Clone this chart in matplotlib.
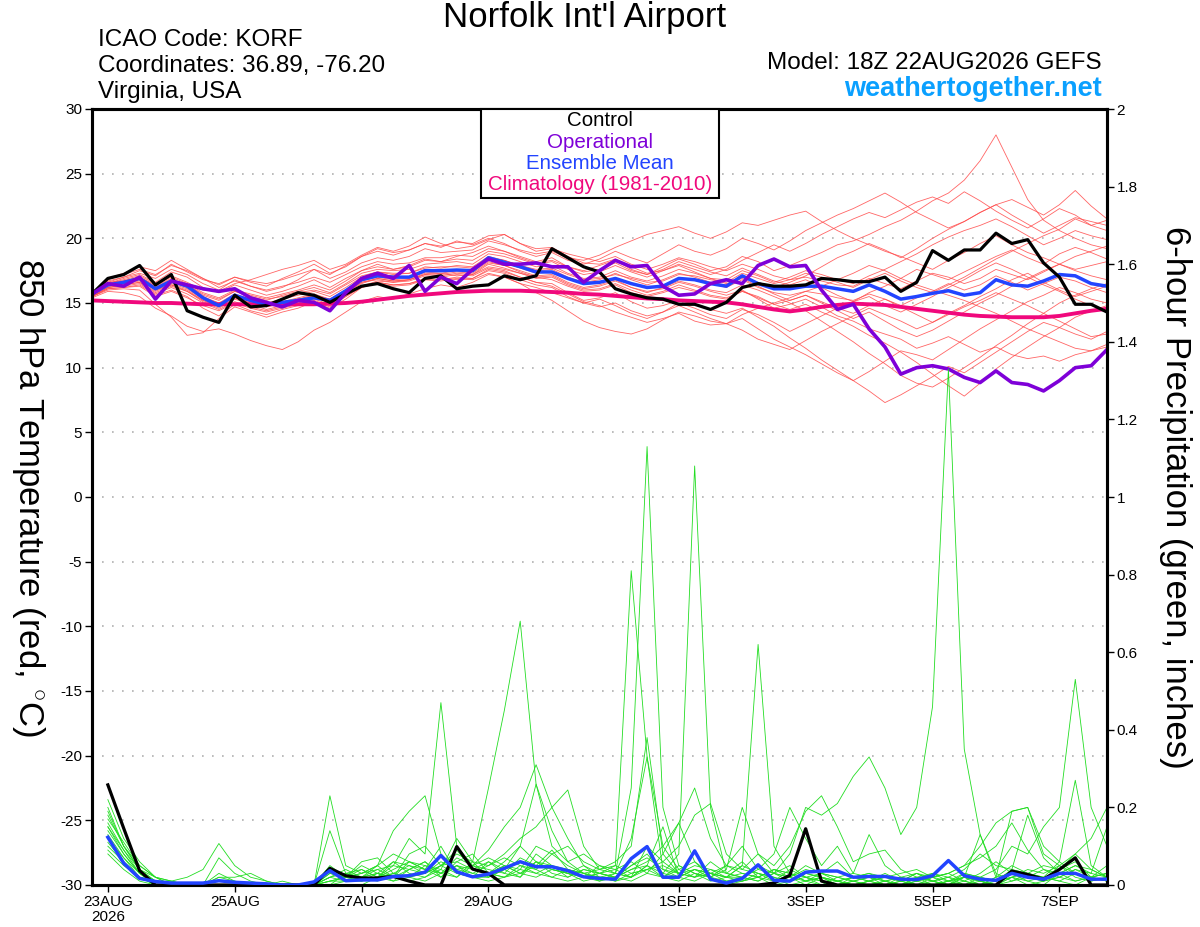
import numpy as np
import matplotlib
matplotlib.use('Agg')
import matplotlib.pyplot as plt

plt.rcParams['font.family'] = ['Liberation Sans', 'DejaVu Sans']
plt.rcParams['axes.unicode_minus'] = False
plt.rcParams['mathtext.fontset'] = 'custom'
plt.rcParams['mathtext.rm'] = 'Liberation Sans'

# ---------------------------------------------------------------- data
# temperature: every 6 h from 22AUG 18Z (hours relative to 23AUG 00Z)
t_hours = list(range(-6, 384, 6))
# precipitation: every 6 h from 23AUG 00Z
p_hours = list(range(0, 384, 6))

tick_days = [0, 2, 4, 6, 9, 11, 13, 15]
tick_labels = ['23AUG\n2026', '25AUG', '27AUG', '29AUG', '1SEP', '3SEP', '5SEP', '7SEP']

control_t = [15.7, 16.9, 17.2, 17.9, 16.4, 17.2, 14.4, 13.9,
             13.5, 15.6, 14.7, 14.8, 15.3, 15.8, 15.6, 15.05,
             15.7, 16.3, 16.5, 16.1, 15.8, 16.9, 17.1, 16.1,
             16.3, 16.4, 17.1, 16.8, 17.1, 19.2, 18.5, 17.8,
             17.4, 16.1, 15.7, 15.4, 15.3, 14.9, 14.9, 14.5,
             15.05, 16.2, 16.5, 16.3, 16.3, 16.4, 16.9, 16.8,
             16.65, 16.65, 17.0, 15.9, 16.6, 19.05, 18.3, 19.1,
             19.1, 20.4, 19.6, 19.9, 18.1, 17.0, 14.9, 14.9, 14.3]

oper_t = [15.7, 16.5, 16.3, 17.0, 15.3, 16.7, 16.4, 16.1,
          15.9, 16.1, 15.4, 15.05, 14.7, 15.2, 15.05, 14.4,
          15.8, 16.9, 17.3, 16.9, 17.9, 15.9, 17.0, 16.5,
          17.6, 18.4, 18.0, 18.0, 18.1, 17.8, 17.8, 16.6,
          17.5, 18.3, 17.8, 17.9, 16.3, 15.6, 15.7, 16.5,
          16.8, 16.5, 17.9, 18.4, 17.8, 17.9, 16.0, 14.5,
          14.9, 13.0, 11.6, 9.5, 10.0, 10.15, 9.9, 9.25,
          8.85, 9.75, 8.85, 8.7, 8.2, 9.0, 10.0, 10.15, 11.4]

mean_t = [15.7, 16.4, 16.6, 16.9, 16.1, 16.7, 16.3, 15.4,
          14.8, 15.6, 15.2, 14.9, 15.05, 15.2, 15.4, 15.2,
          15.95, 16.8, 17.1, 17.0, 17.0, 17.5, 17.5, 17.55,
          17.5, 18.5, 18.15, 17.8, 17.4, 17.4, 16.9, 16.5,
          16.6, 16.9, 16.5, 16.2, 16.3, 16.9, 16.8, 16.5,
          16.3, 17.1, 16.5, 16.1, 16.1, 16.3, 16.3, 16.1,
          15.9, 16.4, 15.9, 15.3, 15.5, 15.75, 15.95, 15.6,
          15.8, 16.8, 16.4, 16.3, 16.7, 17.2, 17.1, 16.5, 16.3]

clim_t = [15.2, 15.15, 15.1, 15.05, 15.0, 15.0, 14.95, 14.9,
          14.9, 14.9, 14.9, 14.9, 14.9, 14.9, 14.9, 14.95,
          15.0, 15.1, 15.25, 15.4, 15.55, 15.65, 15.75, 15.85,
          15.9, 15.95, 15.95, 15.95, 15.9, 15.85, 15.8, 15.7,
          15.65, 15.55, 15.45, 15.35, 15.3, 15.2, 15.15, 15.1,
          15.05, 14.9, 14.7, 14.5, 14.35, 14.5, 14.7, 14.85,
          14.95, 14.9, 14.85, 14.7, 14.55, 14.4, 14.25, 14.1,
          14.0, 13.95, 13.9, 13.9, 13.9, 14.0, 14.2, 14.4, 14.55]

members_t = [
    [15.6, 16.5, 16.9, 17.2, 16.6, 17.4, 17.0, 16.2, 15.8, 16.4, 16.0, 15.6, 15.9, 16.3, 16.8, 16.2,
     16.9, 17.5, 18.0, 17.6, 17.9, 18.4, 18.2, 18.6, 18.9, 19.4, 19.0, 18.6, 18.2, 18.5, 17.8, 17.5,
     17.9, 18.3, 17.6, 17.2, 17.8, 18.4, 18.0, 17.5, 17.8, 18.6, 18.2, 17.5, 17.9, 18.4, 18.9, 19.5,
     19.8, 20.3, 20.9, 21.4, 22.1, 22.9, 23.5, 24.5, 26.0, 28.0, 25.5, 23.0, 21.4, 20.6, 20.0, 19.5, 19.2],
    [15.5, 16.1, 16.2, 16.4, 15.6, 16.0, 15.5, 14.6, 14.0, 14.9, 14.4, 14.1, 14.5, 14.8, 15.0, 14.6,
     15.3, 16.2, 16.6, 16.4, 16.5, 16.9, 17.0, 16.8, 16.9, 17.6, 17.4, 17.0, 16.6, 16.5, 15.8, 15.2,
     15.4, 15.8, 15.1, 14.6, 14.8, 15.2, 14.9, 14.5, 14.2, 14.6, 13.9, 13.2, 12.3, 11.5, 10.6, 9.8,
     9.0, 8.2, 7.3, 7.9, 8.6, 9.3, 10.1, 9.6, 10.4, 11.2, 12.0, 12.8, 13.5, 13.1, 13.9, 14.4, 14.8],
    [15.7, 16.6, 17.0, 17.5, 17.1, 18.0, 17.4, 16.8, 16.5, 17.0, 16.6, 16.3, 16.9, 17.4, 18.0, 17.3,
     17.8, 18.6, 19.2, 18.9, 19.1, 19.6, 19.3, 19.8, 19.5, 20.0, 19.6, 19.0, 18.6, 18.9, 18.3, 18.0,
     18.4, 19.0, 18.5, 18.1, 18.8, 19.5, 19.0, 18.7, 19.2, 20.0, 19.6, 19.1, 19.8, 20.6, 21.2, 21.8,
     22.3, 22.9, 23.5, 22.8, 22.0, 21.4, 20.8, 21.3, 22.0, 22.6, 21.8, 21.1, 20.4, 21.0, 21.6, 21.3, 21.0],
    [15.4, 15.9, 15.8, 15.5, 14.6, 14.0, 13.2, 12.8, 13.0, 12.6, 12.1, 11.7, 11.4, 12.0, 12.9, 13.5,
     14.3, 15.1, 15.5, 15.3, 15.7, 16.1, 16.4, 16.2, 16.6, 17.2, 17.0, 16.5, 16.2, 15.8, 15.4, 15.0,
     15.3, 14.8, 14.2, 13.8, 14.3, 15.0, 14.6, 14.1, 13.8, 14.5, 14.1, 13.5, 12.8, 13.4, 14.0, 14.6,
     15.1, 15.8, 16.3, 16.9, 17.6, 17.2, 16.8, 17.4, 18.0, 18.6, 19.1, 18.5, 18.0, 18.8, 19.3, 18.9, 18.4],
    [15.6, 16.3, 16.5, 16.8, 16.0, 16.4, 15.9, 15.1, 14.6, 15.3, 14.9, 14.5, 14.8, 15.1, 15.5, 15.0,
     15.8, 16.5, 16.9, 16.7, 16.8, 17.3, 17.2, 17.4, 17.3, 18.1, 17.9, 17.5, 17.1, 17.2, 16.6, 16.2,
     16.4, 16.8, 16.2, 15.9, 16.1, 16.6, 16.3, 15.9, 15.6, 16.0, 15.3, 14.6, 14.9, 15.3, 14.7, 14.0,
     13.6, 13.0, 12.6, 12.2, 11.5, 11.9, 12.4, 11.8, 11.2, 11.6, 11.0, 10.7, 10.9, 10.5, 11.0, 11.3, 11.8],
    [15.8, 16.7, 17.0, 17.3, 16.9, 17.6, 17.2, 16.5, 16.0, 16.8, 16.3, 15.9, 16.2, 16.8, 17.6, 16.9,
     17.4, 18.1, 18.5, 18.3, 18.6, 19.2, 18.9, 19.0, 19.1, 19.8, 19.5, 19.1, 18.8, 19.0, 18.5, 18.3,
     18.7, 19.3, 19.8, 20.3, 20.6, 20.9, 20.4, 20.0, 20.5, 21.2, 21.0, 21.4, 21.8, 22.1, 21.3, 20.6,
     20.0, 19.5, 19.0, 18.6, 18.1, 17.6, 18.3, 18.9, 19.6, 20.2, 19.5, 18.9, 18.5, 18.0, 17.6, 17.9, 18.2],
    [15.5, 16.0, 16.1, 16.0, 14.9, 13.9, 12.5, 12.7, 13.8, 14.7, 14.3, 13.9, 14.3, 14.6, 15.1, 14.7,
     15.5, 16.3, 16.7, 16.6, 16.8, 17.2, 17.3, 17.1, 17.2, 17.8, 17.6, 17.3, 17.0, 16.8, 16.3, 15.9,
     16.0, 16.4, 15.8, 15.5, 15.8, 16.2, 15.9, 15.5, 15.3, 15.9, 15.5, 14.9, 15.2, 15.6, 15.1, 14.6,
     14.2, 14.8, 15.3, 14.7, 14.1, 13.5, 14.2, 14.8, 15.5, 16.1, 16.8, 17.3, 16.6, 16.0, 15.5, 15.9, 16.3],
    [15.7, 16.5, 16.8, 17.1, 16.5, 17.1, 16.6, 16.0, 15.9, 16.5, 16.8, 17.2, 17.6, 17.9, 18.3, 17.6,
     18.0, 18.7, 19.3, 19.0, 19.4, 20.1, 19.6, 19.2, 19.4, 19.9, 20.3, 19.6, 19.0, 19.2, 18.8, 18.5,
     18.2, 18.6, 18.0, 17.6, 18.0, 18.5, 18.2, 17.8, 17.5, 18.0, 17.6, 17.1, 16.8, 17.3, 17.0, 16.6,
     16.2, 16.8, 17.3, 16.7, 16.2, 15.8, 16.4, 17.0, 17.7, 18.4, 19.0, 19.6, 20.2, 20.7, 21.5, 21.0, 21.4],
    [15.6, 16.2, 16.4, 16.6, 15.8, 16.3, 15.9, 15.2, 14.9, 15.4, 15.0, 14.7, 15.0, 15.3, 15.6, 15.2,
     15.9, 16.6, 16.8, 16.6, 16.7, 17.1, 17.0, 17.2, 17.1, 17.7, 17.5, 17.0, 16.6, 16.3, 15.7, 15.1,
     14.8, 14.3, 13.9, 13.5, 13.8, 14.2, 13.6, 13.3, 13.4, 12.9, 12.2, 11.8, 11.4, 12.1, 12.8, 13.4,
     14.0, 14.6, 14.1, 13.6, 13.0, 13.5, 14.1, 14.7, 15.2, 15.8, 15.3, 14.8, 14.2, 13.6, 13.0, 12.4, 12.6],
    [15.7, 16.6, 16.7, 17.0, 16.3, 16.9, 16.4, 15.6, 15.2, 15.9, 15.5, 15.2, 15.6, 15.9, 16.2, 15.8,
     16.5, 17.3, 17.6, 17.5, 17.6, 18.0, 18.1, 18.2, 18.0, 18.8, 18.6, 18.2, 17.8, 17.9, 17.3, 16.9,
     17.0, 17.5, 17.0, 16.7, 17.1, 17.6, 17.3, 16.9, 16.8, 17.5, 17.1, 16.6, 17.0, 17.5, 17.2, 16.8,
     16.5, 17.1, 17.6, 18.2, 18.8, 19.5, 20.1, 20.6, 21.0, 21.5, 20.9, 20.2, 19.5, 20.0, 20.6, 20.2, 19.9],
    [15.5, 16.2, 16.3, 16.5, 15.7, 16.2, 15.7, 15.0, 14.5, 15.1, 14.7, 14.4, 14.7, 15.0, 15.3, 14.9,
     15.6, 16.3, 16.6, 16.4, 16.5, 16.8, 16.7, 16.9, 16.8, 17.3, 17.0, 16.5, 15.8, 15.2, 14.4, 13.6,
     13.1, 12.8, 12.6, 13.0, 13.7, 14.3, 14.0, 13.6, 13.4, 14.1, 14.6, 15.0, 15.4, 15.9, 16.3, 16.8,
     17.3, 17.9, 17.5, 16.9, 16.4, 16.0, 15.6, 15.2, 14.7, 14.2, 13.6, 13.0, 12.5, 12.0, 11.5, 11.3, 11.6],
    [15.6, 16.4, 16.6, 16.9, 16.2, 16.8, 16.3, 15.5, 15.0, 15.7, 15.3, 15.0, 15.3, 15.6, 15.9, 15.5,
     16.2, 17.0, 17.4, 17.2, 17.3, 17.8, 17.7, 17.9, 17.8, 18.6, 18.3, 17.9, 17.5, 17.6, 17.0, 16.6,
     16.8, 17.3, 16.8, 16.4, 16.8, 17.3, 17.0, 16.6, 16.4, 17.0, 16.6, 16.2, 16.6, 17.1, 17.8, 18.5,
     19.0, 19.6, 19.1, 18.5, 19.2, 20.0, 20.7, 21.3, 22.0, 22.6, 23.0, 22.4, 21.8, 22.6, 23.7, 22.5, 21.5],
    [15.6, 16.3, 16.5, 16.7, 16.0, 16.5, 16.1, 15.3, 14.8, 15.5, 15.1, 14.8, 15.1, 15.4, 15.7, 15.3,
     16.0, 16.7, 17.0, 16.8, 16.9, 17.4, 17.3, 17.5, 17.4, 18.2, 17.9, 17.4, 17.0, 17.1, 16.5, 16.1,
     16.3, 16.7, 16.2, 15.8, 16.2, 16.7, 16.4, 16.0, 15.8, 16.4, 16.0, 15.5, 15.0, 14.4, 13.6, 12.8,
     12.0, 11.1, 10.3, 9.4, 8.8, 8.5, 9.2, 10.0, 10.8, 11.7, 12.5, 13.4, 14.2, 15.0, 15.6, 16.1, 16.5],
    [15.7, 16.5, 16.6, 16.8, 16.1, 16.6, 16.2, 15.4, 15.0, 15.5, 15.1, 14.9, 15.1, 15.3, 15.6, 15.3,
     16.0, 16.9, 17.2, 17.1, 17.0, 17.6, 17.6, 17.6, 17.6, 18.4, 18.1, 17.7, 17.3, 17.4, 16.9, 16.5,
     16.6, 16.9, 16.5, 16.2, 16.3, 16.9, 16.8, 16.5, 16.2, 16.8, 16.2, 15.8, 15.6, 15.9, 15.7, 15.4,
     15.2, 15.7, 15.3, 14.8, 15.4, 15.9, 16.5, 16.0, 16.4, 17.1, 16.6, 16.0, 16.5, 17.0, 16.7, 16.2, 15.8],
    [15.8, 16.8, 17.2, 17.6, 17.2, 17.9, 17.5, 16.9, 16.4, 17.0, 16.7, 16.5, 16.8, 17.2, 17.6, 17.2,
     17.9, 18.6, 19.0, 18.7, 19.1, 19.6, 19.4, 19.7, 19.6, 20.2, 20.3, 19.6, 19.2, 19.3, 18.6, 18.1,
     18.0, 18.4, 17.8, 17.3, 17.5, 17.9, 17.4, 16.9, 16.5, 16.9, 16.3, 15.7, 15.2, 15.6, 15.0, 14.4,
     13.8, 14.3, 13.6, 12.9, 12.4, 12.9, 13.6, 14.3, 15.0, 15.6, 16.3, 16.9, 17.5, 18.0, 18.6, 19.0, 19.4],
    [15.5, 16.2, 16.4, 16.6, 15.9, 16.4, 16.0, 15.2, 14.7, 15.4, 15.0, 14.7, 15.0, 15.2, 15.5, 15.1,
     15.8, 16.6, 16.9, 16.7, 16.8, 17.2, 17.1, 17.3, 17.2, 18.0, 17.7, 17.3, 16.9, 17.0, 16.4, 16.0,
     16.1, 16.5, 16.0, 15.6, 15.9, 16.4, 16.0, 15.6, 15.4, 15.9, 15.4, 14.9, 14.5, 14.9, 14.3, 13.8,
     13.2, 12.5, 11.9, 11.2, 10.4, 9.5, 8.6, 7.8, 8.8, 9.9, 10.8, 11.6, 12.4, 13.1, 12.6, 12.2, 12.8],
    [15.6, 16.4, 16.7, 17.0, 16.4, 17.0, 16.5, 15.8, 15.4, 16.0, 15.7, 15.4, 15.7, 16.0, 16.4, 16.0,
     16.7, 17.5, 17.8, 17.6, 17.8, 18.3, 18.2, 18.4, 18.3, 19.0, 18.8, 18.4, 18.0, 18.2, 17.6, 17.2,
     17.4, 17.9, 17.4, 17.0, 17.5, 18.0, 17.6, 17.2, 17.6, 18.3, 18.9, 19.5, 19.0, 19.6, 20.3, 20.9,
     21.5, 22.0, 21.6, 22.2, 22.8, 23.2, 22.7, 23.6, 22.9, 22.1, 21.4, 20.8, 21.5, 22.3, 21.8, 21.0, 20.6],
    [15.5, 16.1, 16.2, 16.3, 15.5, 15.9, 15.4, 14.8, 14.4, 15.0, 14.6, 14.3, 14.6, 14.9, 15.2, 14.8,
     15.5, 16.2, 16.5, 16.3, 16.4, 16.8, 16.8, 17.0, 16.9, 17.5, 17.3, 16.8, 16.4, 16.2, 15.5, 15.0,
     14.7, 15.0, 14.4, 14.0, 14.3, 14.8, 14.3, 13.8, 13.4, 13.8, 13.0, 12.2, 11.6, 11.0, 10.3, 9.6,
     9.0, 9.7, 10.5, 11.3, 11.0, 10.6, 11.4, 12.2, 13.0, 13.7, 14.4, 15.1, 15.6, 16.2, 15.8, 15.3, 15.0],
    [15.7, 16.4, 16.7, 17.0, 16.2, 16.8, 16.4, 15.7, 15.3, 15.9, 15.6, 15.3, 15.5, 15.8, 16.0, 15.7,
     16.4, 17.1, 17.4, 17.3, 17.3, 17.7, 17.8, 17.8, 17.7, 18.5, 18.3, 17.9, 17.6, 17.7, 17.2, 16.8,
     16.9, 17.2, 16.9, 16.6, 16.7, 17.2, 17.1, 16.8, 16.6, 17.3, 16.9, 16.5, 16.8, 17.0, 16.7, 16.4,
     16.3, 16.9, 16.5, 16.1, 16.7, 17.3, 17.0, 16.5, 16.9, 17.6, 17.2, 16.8, 17.4, 18.0, 17.5, 17.1, 16.8],
    [15.8, 16.9, 17.3, 17.8, 17.5, 18.3, 17.6, 16.9, 16.2, 16.7, 16.3, 16.0, 16.3, 16.6, 17.0, 16.6,
     17.2, 17.8, 18.2, 18.0, 18.1, 18.5, 18.5, 18.7, 18.6, 19.2, 19.0, 18.5, 18.1, 18.3, 17.8, 17.4,
     17.6, 18.1, 17.5, 17.2, 17.6, 18.2, 17.8, 17.4, 17.1, 17.7, 17.2, 16.7, 16.4, 16.8, 16.2, 15.6,
     15.1, 15.5, 14.8, 14.3, 14.9, 15.5, 16.2, 16.8, 17.5, 18.1, 17.6, 17.0, 16.4, 15.9, 15.3, 14.8, 14.5],
]

control_p = [0.258, 0.146, 0.037, 0.0, 0.0, 0.0, 0.0, 0.0,
             0.0, 0.0, 0.0, 0.0, 0.0, 0.0, 0.043, 0.024,
             0.018, 0.018, 0.022, 0.01, 0.0, 0.0, 0.099, 0.041,
             0.03, 0.0, 0.0, 0.0, 0.0, 0.0, 0.0, 0.0,
             0.0, 0.0, 0.0, 0.0, 0.0, 0.0, 0.0, 0.0,
             0.0, 0.0, 0.005, 0.025, 0.145, 0.01, 0.0, 0.0,
             0.0, 0.0, 0.0, 0.0, 0.0, 0.0, 0.0, 0.0,
             0.0, 0.036, 0.027, 0.015, 0.04, 0.07, 0.0, 0.0]

mean_p = [0.123, 0.056, 0.017, 0.009, 0.005, 0.005, 0.005, 0.011,
          0.007, 0.005, 0.003, 0.0, 0.0, 0.008, 0.037, 0.011,
          0.013, 0.013, 0.022, 0.024, 0.033, 0.076, 0.034, 0.021,
          0.028, 0.043, 0.06, 0.047, 0.047, 0.037, 0.021, 0.017,
          0.015, 0.068, 0.099, 0.02, 0.02, 0.088, 0.015, 0.005,
          0.017, 0.052, 0.012, 0.01, 0.033, 0.036, 0.036, 0.02,
          0.022, 0.022, 0.015, 0.014, 0.024, 0.063, 0.024, 0.015,
          0.012, 0.03, 0.02, 0.015, 0.03, 0.03, 0.015, 0.015]

members_p = [
    [0.15, 0.08, 0.03, 0, 0, 0, 0, 0, 0, 0, 0, 0, 0, 0, 0.05, 0.02,
     0.03, 0.05, 0.02, 0.04, 0.06, 0.02, 0.05, 0.03, 0.02, 0.04, 0.1, 0.06, 0.03, 0.02, 0.04, 0.03,
     0.02, 0.05, 0.08, 0.03, 0.02, 0.04, 0.03, 0.01, 0.02, 0.05, 0.03, 0.08, 0.2, 0.18, 0.21, 0.28,
     0.33, 0.25, 0.13, 0.2, 0.46, 1.33, 0.35, 0.13, 0.02, 0.05, 0.03, 0.01, 0.02, 0.04, 0.02, 0.03],
    [0.18, 0.1, 0.04, 0.01, 0, 0, 0, 0, 0, 0, 0, 0, 0, 0, 0.02, 0.01,
     0.02, 0.01, 0.03, 0.05, 0.04, 0.1, 0.03, 0.02, 0.06, 0.04, 0.02, 0.08, 0.05, 0.03, 0.02, 0.01,
     0.03, 0.25, 1.13, 0.2, 0.05, 0.03, 0.02, 0.01, 0.01, 0.02, 0.0, 0.01, 0.03, 0.02, 0.01, 0,
     0, 0, 0.01, 0.02, 0, 0.01, 0.02, 0.01, 0, 0.03, 0.02, 0.01, 0.05, 0.02, 0.01, 0.02],
    [0.12, 0.07, 0.02, 0, 0, 0, 0, 0, 0, 0, 0, 0, 0, 0, 0.03, 0.02,
     0.04, 0.02, 0.01, 0.02, 0.03, 0.05, 0.09, 0.04, 0.03, 0.02, 0.05, 0.04, 0.02, 0.01, 0.02, 0.03,
     0.05, 0.81, 0.33, 0.04, 0.02, 0.01, 0.03, 0.02, 0.05, 0.03, 0.01, 0.02, 0.0, 0.02, 0.01, 0.0,
     0.01, 0.03, 0.01, 0, 0, 0.01, 0, 0.02, 0.01, 0.04, 0.03, 0.02, 0.06, 0.27, 0.05, 0.02],
    [0.2, 0.1, 0.05, 0.02, 0, 0, 0, 0, 0, 0, 0, 0, 0, 0, 0.01, 0.01,
     0.02, 0.03, 0.06, 0.03, 0.02, 0.04, 0.12, 0.06, 0.02, 0.05, 0.03, 0.02, 0.04, 0.03, 0.01, 0.02,
     0.01, 0.02, 0.05, 0.03, 0.08, 1.08, 0.2, 0.03, 0.02, 0.01, 0.03, 0.05, 0.02, 0.01, 0.0, 0.01,
     0.02, 0.0, 0.01, 0.03, 0.01, 0.0, 0.02, 0.01, 0.0, 0.02, 0.01, 0.0, 0.03, 0.01, 0.02, 0.01],
    [0.1, 0.06, 0.02, 0.01, 0.01, 0, 0, 0.02, 0.01, 0, 0, 0, 0, 0, 0.04, 0.02,
     0.01, 0.02, 0.04, 0.06, 0.05, 0.03, 0.02, 0.05, 0.04, 0.03, 0.02, 0.06, 0.05, 0.04, 0.03, 0.02,
     0.02, 0.04, 0.05, 0.15, 0.02, 0.04, 0.03, 0.02, 0.05, 0.62, 0.1, 0.03, 0.02, 0.01, 0.0, 0.02,
     0.03, 0.01, 0.0, 0.01, 0.02, 0.03, 0.01, 0.0, 0.02, 0.03, 0.01, 0.02, 0.01, 0.03, 0.02, 0.01],
    [0.16, 0.09, 0.04, 0.01, 0, 0, 0, 0, 0, 0, 0, 0, 0, 0, 0.02, 0.03,
     0.04, 0.02, 0.06, 0.05, 0.03, 0.05, 0.08, 0.06, 0.25, 0.45, 0.68, 0.26, 0.1, 0.06, 0.03, 0.02,
     0.03, 0.02, 0.05, 0.02, 0.01, 0.03, 0.02, 0.0, 0.01, 0.03, 0.02, 0.0, 0.01, 0.02, 0.0, 0.01,
     0.0, 0.01, 0.02, 0.0, 0.01, 0.0, 0.02, 0.01, 0.0, 0.01, 0.03, 0.02, 0.01, 0.0, 0.02, 0.01],
    [0.14, 0.08, 0.03, 0, 0, 0, 0, 0, 0, 0, 0, 0, 0, 0, 0.0, 0.03,
     0.02, 0.04, 0.05, 0.12, 0.08, 0.47, 0.1, 0.05, 0.03, 0.05, 0.04, 0.1, 0.08, 0.05, 0.03, 0.04,
     0.06, 0.1, 0.38, 0.08, 0.03, 0.05, 0.04, 0.02, 0.03, 0.02, 0.01, 0.04, 0.02, 0.0, 0.01, 0.0,
     0.01, 0.0, 0.02, 0.01, 0.0, 0.01, 0.02, 0.0, 0.01, 0.02, 0.0, 0.01, 0.02, 0.04, 0.03, 0.02],
    [0.11, 0.06, 0.02, 0, 0, 0, 0, 0, 0, 0, 0, 0, 0, 0, 0.23, 0.05,
     0.03, 0.05, 0.14, 0.19, 0.23, 0.08, 0.04, 0.05, 0.07, 0.05, 0.03, 0.06, 0.04, 0.03, 0.05, 0.02,
     0.01, 0.03, 0.04, 0.02, 0.05, 0.03, 0.01, 0.02, 0.02, 0.04, 0.03, 0.01, 0.02, 0.03, 0.02, 0.01,
     0.02, 0.01, 0.0, 0.01, 0.02, 0.0, 0.03, 0.02, 0.04, 0.1, 0.08, 0.15, 0.2, 0.53, 0.2, 0.1],
    [0.17, 0.11, 0.05, 0.02, 0.01, 0.02, 0.04, 0.107, 0.05, 0.02, 0.01, 0, 0, 0, 0.14, 0.03,
     0.02, 0.03, 0.01, 0.04, 0.06, 0.03, 0.07, 0.05, 0.09, 0.15, 0.2, 0.31, 0.2, 0.12, 0.05, 0.03,
     0.02, 0.04, 0.06, 0.1, 0.16, 0.25, 0.12, 0.05, 0.03, 0.02, 0.04, 0.03, 0.01, 0.02, 0.0, 0.0,
     0.01, 0.0, 0.0, 0.02, 0.01, 0.0, 0.01, 0.0, 0.02, 0.19, 0.2, 0.08, 0.05, 0.03, 0.01, 0.02],
    [0.13, 0.07, 0.03, 0.01, 0, 0, 0, 0.07, 0.03, 0.01, 0, 0, 0, 0, 0.03, 0.02,
     0.06, 0.07, 0.03, 0.02, 0.05, 0.04, 0.02, 0.06, 0.05, 0.08, 0.12, 0.15, 0.2, 0.245, 0.1, 0.04,
     0.03, 0.12, 0.33, 0.1, 0.04, 0.02, 0.03, 0.05, 0.04, 0.08, 0.05, 0.1, 0.19, 0.23, 0.15, 0.06,
     0.08, 0.09, 0.04, 0.02, 0.03, 0.01, 0.02, 0.13, 0.03, 0.01, 0.02, 0.04, 0.03, 0.05, 0.03, 0.15],
    [0.09, 0.05, 0.02, 0.01, 0, 0, 0, 0.02, 0.02, 0.03, 0.01, 0, 0, 0, 0.02, 0.04,
     0.02, 0.05, 0.08, 0.06, 0.04, 0.02, 0.06, 0.08, 0.03, 0.06, 0.1, 0.26, 0.14, 0.06, 0.08, 0.05,
     0.04, 0.06, 0.03, 0.08, 0.16, 0.06, 0.02, 0.04, 0.2, 0.08, 0.03, 0.02, 0.05, 0.03, 0.01, 0.02,
     0.01, 0.02, 0.03, 0.04, 0.02, 0.03, 0.05, 0.07, 0.1, 0.16, 0.09, 0.04, 0.02, 0.01, 0.02, 0.03],
    [0.15, 0.09, 0.03, 0.01, 0, 0, 0, 0, 0, 0, 0, 0.01, 0, 0, 0.01, 0.02,
     0.03, 0.04, 0.02, 0.08, 0.1, 0.05, 0.03, 0.02, 0.02, 0.04, 0.06, 0.04, 0.08, 0.1, 0.06, 0.04,
     0.05, 0.03, 0.04, 0.06, 0.1, 0.18, 0.21, 0.08, 0.04, 0.03, 0.02, 0.01, 0.03, 0.02, 0.01, 0.02,
     0.03, 0.02, 0.01, 0.0, 0.02, 0.03, 0.05, 0.1, 0.16, 0.19, 0.2, 0.1, 0.06, 0.03, 0.02, 0.05],
    [0.08, 0.04, 0.01, 0, 0, 0, 0, 0, 0, 0, 0, 0, 0, 0, 0.0, 0.01,
     0.01, 0.02, 0.03, 0.02, 0.01, 0.03, 0.05, 0.02, 0.01, 0.02, 0.04, 0.03, 0.02, 0.04, 0.03, 0.01,
     0.02, 0.01, 0.03, 0.02, 0.04, 0.06, 0.03, 0.02, 0.01, 0.02, 0.04, 0.02, 0.01, 0.03, 0.06, 0.02,
     0.01, 0.02, 0.01, 0.03, 0.02, 0.01, 0.03, 0.02, 0.01, 0.02, 0.04, 0.03, 0.05, 0.08, 0.04, 0.02],
    [0.22, 0.12, 0.06, 0.02, 0.01, 0, 0, 0, 0, 0, 0, 0, 0, 0, 0.0, 0.0,
     0.0, 0.02, 0.05, 0.04, 0.03, 0.06, 0.04, 0.03, 0.05, 0.07, 0.05, 0.03, 0.05, 0.02, 0.04, 0.03,
     0.02, 0.05, 0.07, 0.04, 0.03, 0.02, 0.04, 0.03, 0.06, 0.02, 0.04, 0.03, 0.01, 0.0, 0.02, 0.01,
     0.0, 0.01, 0.0, 0.02, 0.01, 0.02, 0.0, 0.01, 0.0, 0.02, 0.03, 0.05, 0.04, 0.08, 0.12, 0.2],
    [0.12, 0.06, 0.02, 0, 0, 0, 0, 0.03, 0.01, 0, 0, 0, 0, 0, 0.04, 0.02,
     0.05, 0.03, 0.02, 0.06, 0.04, 0.03, 0.05, 0.04, 0.06, 0.03, 0.07, 0.05, 0.09, 0.04, 0.02, 0.03,
     0.04, 0.02, 0.1, 0.06, 0.03, 0.04, 0.02, 0.05, 0.1, 0.04, 0.08, 0.2, 0.12, 0.05, 0.1, 0.03,
     0.13, 0.05, 0.02, 0.01, 0.03, 0.02, 0.01, 0.03, 0.06, 0.03, 0.02, 0.01, 0.04, 0.06, 0.02, 0.03],
    [0.19, 0.1, 0.04, 0.02, 0, 0, 0, 0, 0, 0, 0, 0, 0, 0, 0.01, 0.02,
     0.01, 0.03, 0.02, 0.01, 0.02, 0.05, 0.06, 0.04, 0.03, 0.02, 0.03, 0.05, 0.04, 0.03, 0.02, 0.05,
     0.03, 0.02, 0.04, 0.05, 0.03, 0.02, 0.06, 0.03, 0.02, 0.01, 0.03, 0.02, 0.04, 0.03, 0.02, 0.03,
     0.02, 0.01, 0.02, 0.03, 0.01, 0.02, 0.04, 0.08, 0.05, 0.04, 0.18, 0.07, 0.03, 0.05, 0.04, 0.02],
]

# ---------------------------------------------------------------- figure
t_days = np.array(t_hours) / 24.0
p_days = np.array(p_hours) / 24.0

fig = plt.figure(figsize=(12, 9.27), dpi=100)
ax = fig.add_axes([92 / 1200, 42 / 927, 1015 / 1200, 776 / 927])
ax2 = ax.twinx()

for m in members_t:
    ax.plot(t_days, m, color='#ff4a4a', lw=0.6, alpha=0.85, zorder=2)
ax.plot(t_days, clim_t, color='#f0087c', lw=2.8, zorder=4)
ax.plot(t_days, mean_t, color='#2244ff', lw=2.5, zorder=5)
ax.plot(t_days, control_t, color='black', lw=2.3, zorder=6)
ax.plot(t_days, oper_t, color='#7e00d8', lw=2.6, zorder=7)

for m in members_p:
    ax2.plot(p_days, m, color='#22dd22', lw=0.6, zorder=2)
ax2.plot(p_days, control_p, color='black', lw=2.3, zorder=4)
ax2.plot(p_days, mean_p, color='#2244ff', lw=2.5, zorder=5)

ax.set_xlim(-0.25, 15.75)
ax.set_ylim(-30, 30)
ax2.set_ylim(0, 2)
ax.set_yticks(range(-30, 31, 5))
ax2.set_yticks(np.arange(0, 2.01, 0.2))
ax2.set_yticklabels(['%g' % round(v, 1) for v in np.arange(0, 2.01, 0.2)])
ax.set_xticks(tick_days)
ax.set_xticklabels(tick_labels, linespacing=1.1)

for g in range(-25, 30, 5):
    ax.axhline(g, color='#b0b0b0', lw=1.2, ls=(0, (1, 5)), zorder=1)

for a in (ax, ax2):
    for s in a.spines.values():
        s.set_linewidth(2.2)
    a.tick_params(labelsize=11, length=5, width=1, direction='out', pad=2)

ax.set_ylabel('850 hPa Temperature (red, $^{\\circ}$C)', fontsize=25, rotation=270,
              va='center', ha='center')
ax.yaxis.set_label_coords(-0.063, 0.5)
ax2.set_ylabel('6-hour Precipitation (green, inches)', fontsize=25, rotation=270,
               va='center', ha='center')
ax2.yaxis.set_label_coords(1.067, 0.5)

# header texts
fig.text(585 / 1200, 1 - 18 / 927, "Norfolk Int'l Airport", fontsize=25,
         ha='center', va='center')
fig.text(98 / 1200, 1 - 40 / 927, 'ICAO Code: KORF', fontsize=17.5, va='center')
fig.text(98 / 1200, 1 - 66 / 927, 'Coordinates: 36.89, -76.20', fontsize=17.5, va='center')
fig.text(98 / 1200, 1 - 92 / 927, 'Virginia, USA', fontsize=17.5, va='center')
fig.text(1102 / 1200, 1 - 63 / 927, 'Model: 18Z 22AUG2026 GEFS', fontsize=17.5,
         ha='right', va='center')
fig.text(1102 / 1200, 1 - 89 / 927, 'weathertogether.net', fontsize=19.5,
         ha='right', va='center', color='#0aa0ff', fontweight='bold')

# legend box
legend_items = [('Control', 'black'), ('Operational', '#7e00d8'),
                ('Ensemble Mean', '#2244ff'), ('Climatology (1981-2010)', '#f0087c')]
box = plt.Rectangle((481 / 1200, 1 - 198 / 927), 238 / 1200, 89 / 927,
                    transform=fig.transFigure, fill=True, facecolor='white',
                    edgecolor='black', lw=1.5, zorder=10)
fig.add_artist(box)
for k, (txt, col) in enumerate(legend_items):
    fig.text(600 / 1200, 1 - (121 + 21.3 * k) / 927, txt, fontsize=14.8, color=col,
             ha='center', va='center', zorder=11)

fig.savefig('out.png', dpi=100)
